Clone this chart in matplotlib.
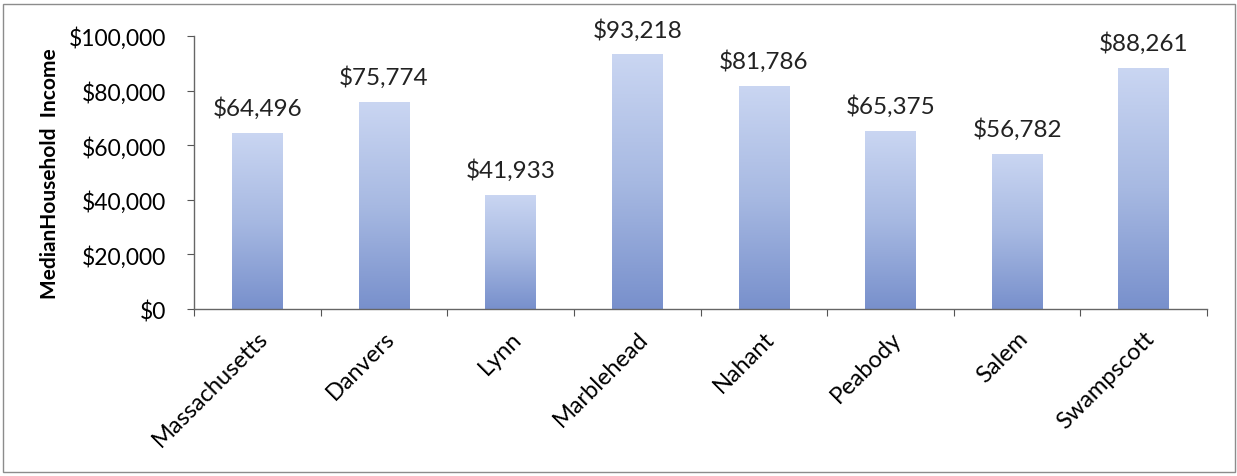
import matplotlib.pyplot as plt
import numpy as np
from matplotlib.patches import Rectangle
from matplotlib.ticker import FuncFormatter
from matplotlib.colors import LinearSegmentedColormap

towns = ["Massachusetts", "Danvers", "Lynn", "Marblehead", "Nahant",
         "Peabody", "Salem", "Swampscott"]
income = [64496, 75774, 41933, 93218, 81786, 65375, 56782, 88261]
yticks = [0, 20000, 40000, 60000, 80000, 100000]

plt.rcParams['font.family'] = ['Lato', 'DejaVu Sans']

fig = plt.figure(figsize=(12.37, 4.77), dpi=100)
ax = fig.add_axes([0.1568, 0.35, 0.8190, 0.5725])

# outer chart border
fig.patches.append(Rectangle((0.0024, 0.0084), 0.9956, 0.981, transform=fig.transFigure,
                             fill=False, edgecolor='#8c8c8c', linewidth=1.0))

x = np.arange(len(towns))
bars = ax.bar(x, income, width=0.4, color='none', edgecolor='none')

# vertical gradient fill, light on top, darker at the base
grad = LinearSegmentedColormap.from_list('bluegrad', ['#7890cc', '#a7b9e2', '#cad6f2'])
ramp = np.linspace(0, 1, 256).reshape(-1, 1)
for b in bars:
    x0, w, h = b.get_x(), b.get_width(), b.get_height()
    im = ax.imshow(ramp, cmap=grad, aspect='auto', origin='lower',
                   extent=[x0, x0 + w, 0, h], zorder=2, interpolation='bicubic')
    im.set_clip_path(b)

for xi, v in zip(x, income):
    ax.annotate(f"${v:,}", (xi, v), xytext=(0, 10), textcoords='offset points',
                ha='center', va='bottom', fontsize=17.5, color='#222222')

ax.set_xlim(-0.5, len(towns) - 0.5)
ax.set_ylim(0, 100000)
ax.set_yticks(yticks)
ax.yaxis.set_major_formatter(FuncFormatter(lambda v, p: f"${v:,.0f}"))
ax.set_xticks(np.arange(len(towns) + 1) - 0.5, minor=False)
ax.set_xticklabels([])
ax.set_xticks(x, minor=True)
ax.set_xticklabels(towns, minor=True, rotation=45, ha='right', rotation_mode='anchor', fontsize=17)
ax.tick_params(axis='x', which='minor', length=0, pad=13)
ax.tick_params(axis='x', which='major', length=5, direction='out', color='#555555')
ax.tick_params(axis='y', length=5, color='#555555', labelsize=16.5, pad=15)

for s in ['top', 'right']:
    ax.spines[s].set_visible(False)
for s in ['left', 'bottom']:
    ax.spines[s].set_color('#666666')
    ax.spines[s].set_linewidth(1.0)

ax.set_ylabel("MedianHousehold  Income", fontsize=15, fontweight='bold', labelpad=6)

fig.savefig('out.png', dpi=100)
